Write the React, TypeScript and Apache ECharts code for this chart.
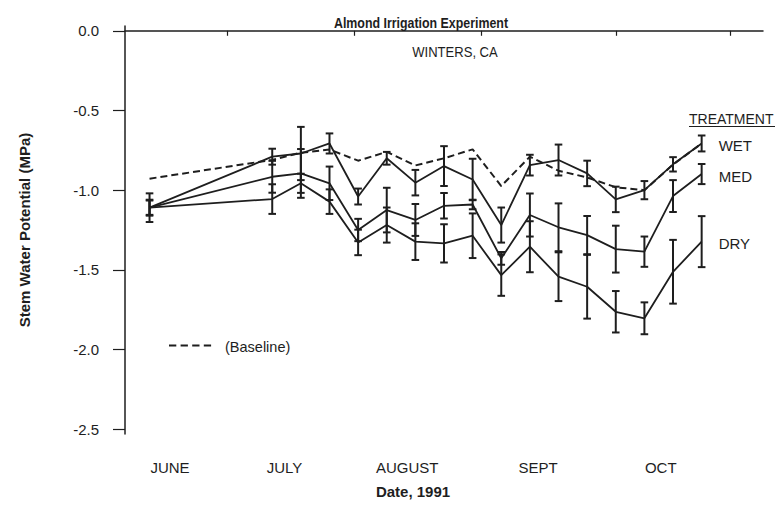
import { useEffect, useRef } from 'react';
import * as echarts from 'echarts';

// Sampling dates as day-of-year, 1991 (163 = June 12, 193 = July 12, then weekly)
const sampleDays = [163, 193, 200, 207, 214, 221, 228, 235, 242, 249, 256, 263, 270, 277, 284, 291, 298];

const wetMean = [-1.11, -0.79, -0.77, -0.707, -1.04, -0.8, -0.953, -0.849, -0.933, -1.219, -0.843, -0.811, -0.895, -1.058, -1.0, -0.838, -0.707];
const wetErr = [0.09, 0.05, 0.167, 0.063, 0.05, 0.04, 0.08, 0.125, 0.13, 0.11, 0.065, 0.097, 0.08, 0.08, 0.057, 0.045, 0.05];

const medMean = [-1.11, -0.916, -0.895, -0.957, -1.25, -1.125, -1.187, -1.098, -1.09, -1.428, -1.156, -1.233, -1.282, -1.37, -1.386, -1.037, -0.899];
const medErr = [0.045, 0.1, 0.153, 0.105, 0.07, 0.14, 0.1, 0.08, 0.03, 0.04, 0.135, 0.15, 0.12, 0.147, 0.095, 0.1, 0.063];

const dryMean = [-1.11, -1.056, -0.957, -1.072, -1.328, -1.219, -1.323, -1.334, -1.286, -1.533, -1.355, -1.543, -1.606, -1.763, -1.804, -1.512, -1.323];
const dryErr = [0.05, 0.093, 0.06, 0.077, 0.08, 0.11, 0.115, 0.12, 0.14, 0.13, 0.16, 0.153, 0.2, 0.13, 0.1, 0.2, 0.16];

const baselineMean = [-0.928, -0.81, -0.765, -0.745, -0.815, -0.76, -0.845, -0.8, -0.744, -0.974, -0.79, -0.878, -0.92, -0.982, -1.0, -0.84, -0.707];

const monthTickDays = [182, 213, 244, 277, 305];
const monthLabelDays = [168, 196, 226, 258, 288];
const monthLabels = ['JUNE', 'JULY', 'AUGUST', 'SEPT', 'OCT'];
const yTickValues = [0, -0.5, -1, -1.5, -2, -2.5];

const INK = '#1e1e1e';
const FONT = '"Liberation Sans", Arial, Helvetica, sans-serif';

function errorSeries(name: string, means: number[], errs: number[]) {
  return {
    name: name + ' error',
    type: 'custom',
    silent: true,
    data: sampleDays.map((d, i) => [d, means[i], errs[i]]),
    encode: { x: 0, y: 1 },
    renderItem: (_params: any, api: any) => {
      const x = api.value(0);
      const y = api.value(1);
      const e = api.value(2);
      const top = api.coord([x, y + e]);
      const bot = api.coord([x, y - e]);
      const w = 3.8;
      const st = { stroke: INK, lineWidth: 2 };
      return {
        type: 'group',
        children: [
          { type: 'line', shape: { x1: top[0], y1: top[1], x2: bot[0], y2: bot[1] }, style: st },
          { type: 'line', shape: { x1: top[0] - w, y1: top[1], x2: top[0] + w, y2: top[1] }, style: st },
          { type: 'line', shape: { x1: bot[0] - w, y1: bot[1], x2: bot[0] + w, y2: bot[1] }, style: st },
        ],
      };
    },
  };
}

function lineSeries(name: string, means: number[]) {
  return {
    name,
    type: 'line',
    data: sampleDays.map((d, i) => [d, means[i]]),
    showSymbol: false,
    symbol: 'none',
    lineStyle: { color: INK, width: 1.8 },
    itemStyle: { color: INK },
    endLabel: {
      show: true,
      formatter: '{a}',
      distance: 17,
      offset: [0, 2],
      color: INK,
      fontSize: 15,
      fontFamily: FONT,
    },
  };
}

export default function App() {
  const ref = useRef<HTMLDivElement>(null);

  useEffect(() => {
    if (!ref.current) return;
    const chart = echarts.init(ref.current, null, { renderer: 'svg' });
    chart.setOption({
      animation: false,
      backgroundColor: '#ffffff',
      grid: { left: 125, right: 12, top: 26, bottom: 80 },
      xAxis: {
        type: 'value',
        min: 157,
        max: 313,
        name: 'Date, 1991',
        nameLocation: 'middle',
        nameGap: 50,
        nameTextStyle: { color: INK, fontSize: 15, fontWeight: 'bold', fontFamily: FONT, padding: [0, 62, 0, 0] },
        axisLine: { show: true, lineStyle: { color: INK, width: 1.5 } },
        axisTick: { show: true, customValues: monthTickDays, length: 5, lineStyle: { color: INK, width: 1.2 } },
        axisLabel: {
          show: true,
          customValues: monthLabelDays,
          formatter: (v: number) => {
            const i = monthLabelDays.indexOf(Math.round(v));
            return i >= 0 ? monthLabels[i] : '';
          },
          margin: 26,
          color: INK,
          fontSize: 15,
          fontFamily: FONT,
        },
        splitLine: { show: false },
      },
      yAxis: {
        type: 'value',
        min: -2.53,
        max: 0.03,
        name: 'Stem Water Potential (MPa)',
        nameLocation: 'middle',
        nameRotate: 90,
        nameGap: 93,
        nameTextStyle: { color: INK, fontSize: 15, fontWeight: 'bold', fontFamily: FONT },
        axisLine: { show: true, lineStyle: { color: INK, width: 1.5 } },
        axisTick: { show: true, customValues: yTickValues, length: 12, lineStyle: { color: INK, width: 1.2 } },
        axisLabel: {
          show: true,
          customValues: yTickValues,
          formatter: (v: number) => (Math.abs(v) < 1e-9 ? '0.0' : v.toFixed(1)),
          margin: 26,
          color: INK,
          fontSize: 15,
          fontFamily: FONT,
        },
        splitLine: { show: false },
      },
      graphic: [
        {
          type: 'text',
          x: 421,
          y: 22,
          scaleX: 0.8,
          style: {
            text: 'Almond Irrigation Experiment',
            fill: INK,
            fontSize: 15.5,
            fontWeight: 'bold',
            fontFamily: FONT,
            align: 'center',
            verticalAlign: 'middle',
            textAlign: 'center',
            textVerticalAlign: 'middle',
          },
        },
        {
          type: 'text',
          x: 455,
          y: 52,
          scaleX: 0.9,
          style: {
            text: 'WINTERS, CA',
            fill: INK,
            fontSize: 14.5,
            fontFamily: FONT,
            align: 'center',
            verticalAlign: 'middle',
            textAlign: 'center',
            textVerticalAlign: 'middle',
          },
        },
        {
          type: 'text',
          x: 689,
          y: 119,
          style: {
            text: 'TREATMENT',
            fill: INK,
            fontSize: 14,
            fontFamily: FONT,
            align: 'left',
            verticalAlign: 'middle',
            textAlign: 'left',
            textVerticalAlign: 'middle',
          },
        },
        {
          type: 'line',
          shape: { x1: 689, y1: 126.5, x2: 775, y2: 126.5 },
          style: { stroke: INK, lineWidth: 1.2 },
        },
        {
          type: 'line',
          shape: { x1: 169, y1: 345.5, x2: 213, y2: 345.5 },
          style: { stroke: INK, lineWidth: 2, lineDash: [7.3, 4.3] },
        },
        {
          type: 'text',
          x: 225,
          y: 347,
          style: {
            text: '(Baseline)',
            fill: INK,
            fontSize: 14.5,
            fontFamily: FONT,
            align: 'left',
            verticalAlign: 'middle',
            textAlign: 'left',
            textVerticalAlign: 'middle',
          },
        },
      ],
      series: [
        {
          name: 'Baseline',
          type: 'line',
          data: sampleDays.map((d, i) => [d, baselineMean[i]]),
          showSymbol: false,
          symbol: 'none',
          lineStyle: { color: INK, width: 2, type: [7, 4] },
        },
        lineSeries('WET', wetMean),
        lineSeries('MED', medMean),
        lineSeries('DRY', dryMean),
        errorSeries('WET', wetMean, wetErr),
        errorSeries('MED', medMean, medErr),
        errorSeries('DRY', dryMean, dryErr),
      ],
    });
    return () => chart.dispose();
  }, []);

  return (
    <div
      ref={ref}
      style={{ position: 'fixed', left: 0, top: 0, width: 775, height: 514, background: '#fff' }}
    />
  );
}
